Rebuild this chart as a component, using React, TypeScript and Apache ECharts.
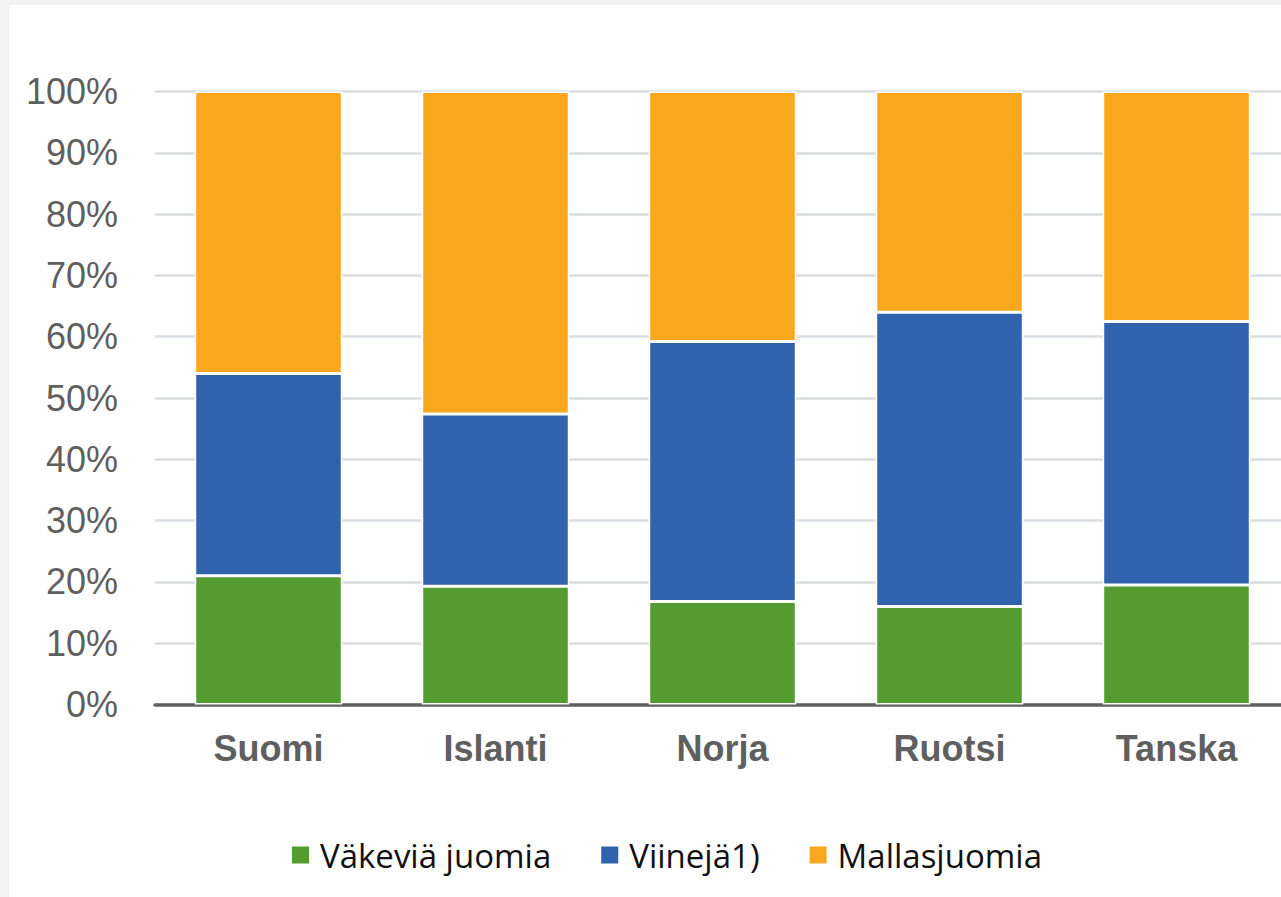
import React, { useEffect, useRef } from "react";
import * as echarts from "echarts";

const categories = ["Suomi", "Islanti", "Norja", "Ruotsi", "Tanska"];
const seriesNames = ["Väkeviä juomia", "Viinejä1)", "Mallasjuomia"];
const vakevia = [21.0, 19.3, 16.8, 16.0, 19.5];
const viineja = [33.0, 28.1, 42.4, 48.0, 43.0];
const mallas = [46.0, 52.6, 40.8, 36.0, 37.5];
const colors = ["#549B30", "#3062AD", "#F9A71C"];

export default function App() {
  const ref = useRef<HTMLDivElement>(null);
  useEffect(() => {
    if (!ref.current) return;
    const chart = echarts.init(ref.current, null, { renderer: "svg" });
    const data = [vakevia, viineja, mallas];
    chart.setOption({
      animation: false,
      backgroundColor: "transparent",
      grid: { left: 155, width: 1135, top: 91.5, bottom: 192.5, containLabel: false },
      legend: {
        left: 287,
        top: 832,
        itemWidth: 17,
        itemHeight: 17,
        itemGap: 50,
        icon: "rect",
        data: seriesNames,
        itemStyle: { borderWidth: 0 },
        textStyle: {
          fontFamily: "Open Sans",
          fontSize: 33,
          color: "#111",
          lineHeight: 36,
          padding: [0, 0, 0, 6],
        },
      },
      xAxis: {
        type: "category",
        data: categories,
        axisTick: { show: false },
        axisLine: { lineStyle: { color: "#616161", width: 3.5 } },
        axisLabel: {
          margin: 26,
          fontFamily: "Liberation Sans",
          fontWeight: "bold",
          fontSize: 36,
          color: "#5f5f5f",
        },
      },
      yAxis: {
        type: "value",
        min: 0,
        max: 100,
        interval: 10,
        axisLine: { show: false },
        axisTick: { show: false },
        splitLine: { lineStyle: { color: "#dadde1", width: 2.5 } },
        axisLabel: {
          margin: 37,
          formatter: "{value}%",
          fontFamily: "Liberation Sans",
          fontSize: 36,
          color: "#5f5f5f",
        },
      },
      series: seriesNames.map((name, i) => ({
        name,
        type: "bar",
        stack: "total",
        barWidth: "65%",
        data: data[i],
        itemStyle: { color: colors[i], borderColor: "#ffffff", borderWidth: 1.5 },
      })),
    });
    return () => chart.dispose();
  }, []);
  return (
    <div style={{ position: "fixed", left: 0, top: 0, width: 1281, height: 897, background: "#f3f3f3", overflow: "hidden" }}>
      <div style={{ position: "absolute", left: 9, top: 5, width: 1272, height: 892, background: "#ffffff" }} />
      <div ref={ref} style={{ position: "absolute", left: 0, top: 0, width: 1310, height: 897 }} />
    </div>
  );
}
